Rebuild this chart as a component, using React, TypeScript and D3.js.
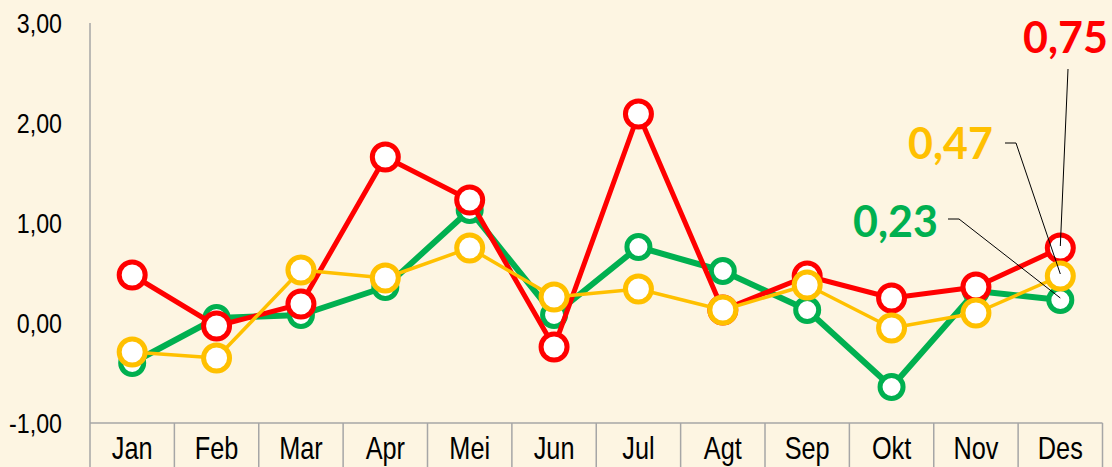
import React from 'react';
import * as d3 from 'd3';

const months = ['Jan', 'Feb', 'Mar', 'Apr', 'Mei', 'Jun', 'Jul', 'Agt', 'Sep', 'Okt', 'Nov', 'Des'];
const greenValues = [-0.4, 0.05, 0.08, 0.36, 1.13, 0.08, 0.76, 0.52, 0.13, -0.64, 0.32, 0.23];
const redValues = [0.48, -0.03, 0.19, 1.66, 1.23, -0.24, 2.09, 0.13, 0.47, 0.25, 0.36, 0.75];
const yellowValues = [-0.29, -0.35, 0.53, 0.45, 0.75, 0.26, 0.34, 0.13, 0.38, -0.05, 0.1, 0.47];
const yTicks = [-1, 0, 1, 2, 3];

const W = 1112;
const H = 467;
const bg = '#FDF5E2';
const axisColor = '#A6A6A6';
const sans = '"Liberation Sans", Arial, sans-serif';
const bold = 'Lato, "Open Sans", "Noto Sans", sans-serif';

const series = [
  { name: 'green', values: greenValues, color: '#00B050', lineWidth: 6, r: 11.5, ring: 5, label: { x: 938, y: 237, elbow: [[948, 219], [959, 219]] } },
  { name: 'red', values: redValues, color: '#FF0000', lineWidth: 5, r: 13, ring: 5, label: { x: 1108, y: 53, elbow: [[1068, 69]] } },
  { name: 'yellow', values: yellowValues, color: '#FFC000', lineWidth: 3.5, r: 13, ring: 5, label: { x: 993, y: 159, elbow: [[1005, 143], [1016, 143]] } },
];

// comma decimals, plain hyphen for negatives
const fmt = (v: number) => d3.format('.2f')(v).replace('.', ',').replace('\u2212', '-');

// the chart font is condensed; squeeze a regular sans horizontally
function Narrow(props: { x: number; y: number; size: number; sx: number; anchor: string; dy?: string; children: React.ReactNode }) {
  return (
    <text
      transform={`translate(${props.x},${props.y}) scale(${props.sx},1)`}
      dy={props.dy}
      textAnchor={props.anchor}
      fontFamily={sans}
      fontSize={props.size}
      fill="#000"
    >
      {props.children}
    </text>
  );
}

export default function App() {
  const x = d3.scaleBand<string>().domain(months).range([90, 1102.5]);
  const y = d3.scaleLinear().domain([-1, 3]).range([423, 23]);
  const cx = (m: string) => (x(m) as number) + x.bandwidth() / 2;
  const line = d3.line<number>()
    .x((_, i) => cx(months[i]))
    .y(d => y(d));

  return (
    <svg width={W} height={H} style={{ position: 'absolute', left: 0, top: 0, background: bg }}>
      <rect x={0} y={0} width={W} height={H} fill={bg} />

      {/* y axis */}
      <line x1={90} x2={90} y1={y(3)} y2={H} stroke={axisColor} strokeWidth={1.5} />
      {yTicks.map(t => (
        <Narrow key={t} x={62} y={y(t)} dy="0.36em" anchor="end" size={28} sx={0.83}>
          {fmt(t)}
        </Narrow>
      ))}

      {/* x axis */}
      <line x1={90} x2={1102.5} y1={y(-1)} y2={y(-1)} stroke={axisColor} strokeWidth={1.5} />
      {months.map(m => (
        <g key={m}>
          <line x1={(x(m) as number) + x.bandwidth()} x2={(x(m) as number) + x.bandwidth()} y1={y(-1)} y2={H} stroke={axisColor} strokeWidth={1.5} />
          <Narrow x={cx(m)} y={459} anchor="middle" size={32} sx={0.79}>{m}</Narrow>
        </g>
      ))}

      {/* series */}
      {series.map(s => (
        <g key={s.name}>
          <path d={line(s.values) || ''} fill="none" stroke={s.color} strokeWidth={s.lineWidth} strokeLinejoin="round" />
          {s.values.map((v, i) => (
            <circle key={i} cx={cx(months[i])} cy={y(v)} r={s.r} fill="#fff" stroke={s.color} strokeWidth={s.ring} />
          ))}
        </g>
      ))}

      {/* last-value labels with leader lines */}
      {series.map(s => {
        const last = s.values[s.values.length - 1];
        const pts = [...s.label.elbow, [cx(months[11]), y(last) - 2]];
        return (
          <g key={s.name + '-label'}>
            <polyline points={pts.map(p => p.join(',')).join(' ')} fill="none" stroke="#000" strokeWidth={1} />
            <text x={s.label.x} y={s.label.y} textAnchor="end" fontFamily={bold} fontWeight={700} fontSize={43} fill={s.color}>
              {fmt(last)}
            </text>
          </g>
        );
      })}
    </svg>
  );
}
